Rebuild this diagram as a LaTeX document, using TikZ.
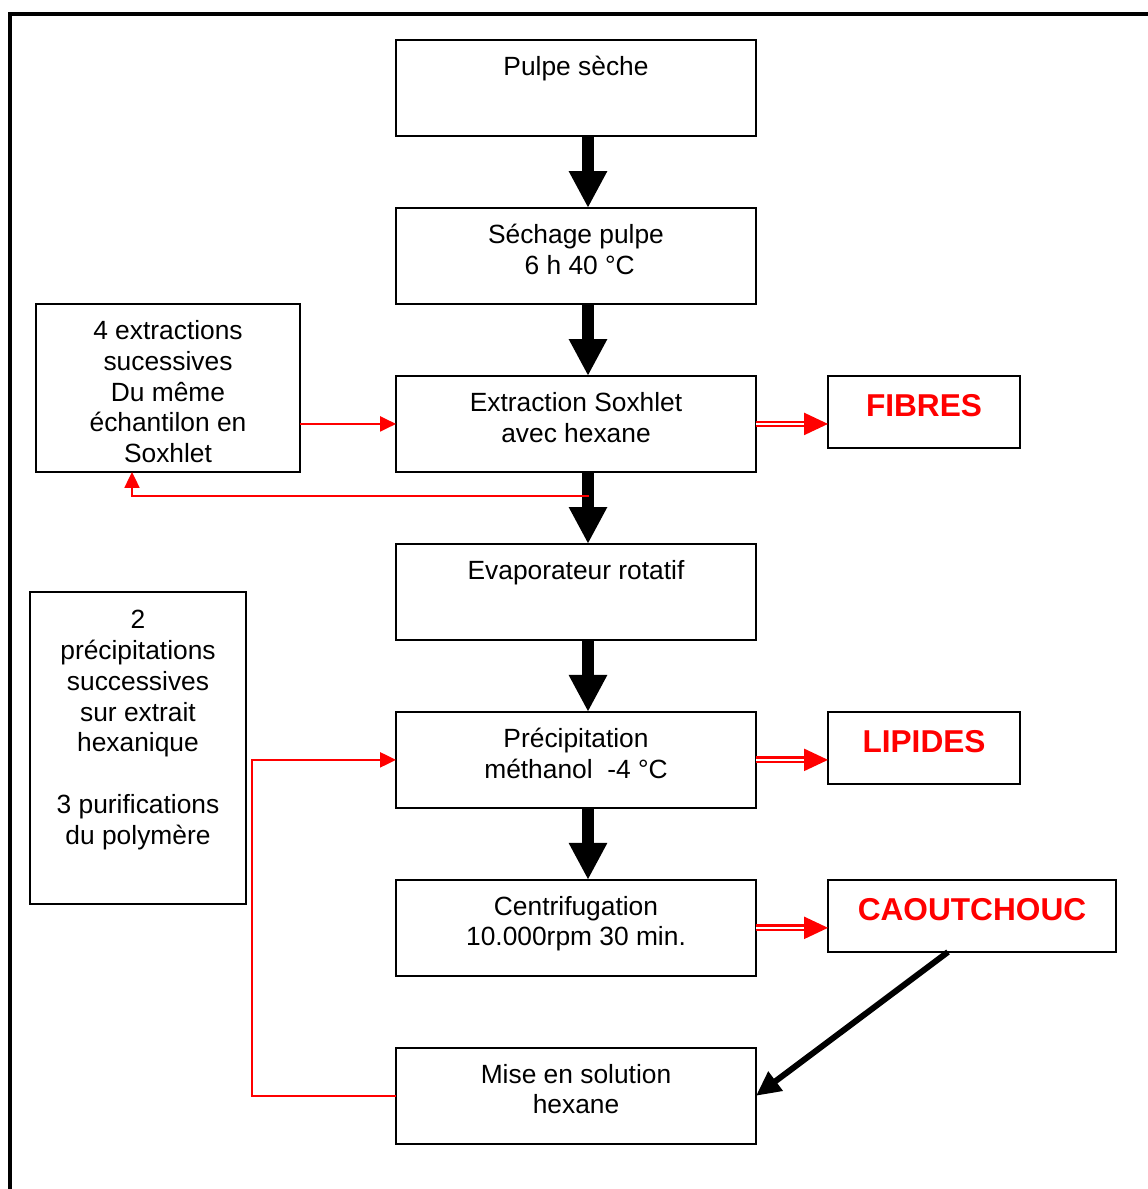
\documentclass[tikz,border=0pt]{standalone}
\usepackage{fontspec}
\setmainfont{Liberation Sans}
\usetikzlibrary{arrows.meta,positioning,calc}
\newcommand\tstrut{\rule{0pt}{15pt}}

\begin{document}
\begin{tikzpicture}
  [x=0.02cm, y=-0.02cm,
   box/.style={draw,line width=1.1pt,minimum width=7.2cm,minimum height=1.92cm,inner sep=0pt,outer sep=0pt},
   sidebox/.style={draw,line width=1.1pt,inner sep=0pt,outer sep=0pt},
   txt/.style={font=\fontsize{15}{17.6}\selectfont,align=center,inner sep=0pt,anchor=north},
   restxt/.style={font=\fontsize{18}{21}\selectfont\bfseries,text=red,inner sep=0pt,anchor=north,
     execute at begin node=\rule{0pt}{18pt}},
   flow/.style={line width=6.8pt,-{Triangle[length=21pt,width=20.4pt]}},
   toresult/.style={red,line width=1.2pt,double=white,double distance=1.5pt,
     -{Triangle[length=13.6pt,width=12.5pt]}},
   redline/.style={red,line width=1.1pt,-{Triangle[length=9pt,width=8.5pt]}},
   diag/.style={line width=3.4pt,-{Triangle[length=14pt,width=13pt]}},
   node distance=1.44cm]

  \useasboundingbox (0,0) rectangle (1147,1189);
  \draw[line width=2.3pt] (10,1200) -- (10,14) -- (1160,14);

  % main column
  \node[box] (pulpe) at (576,88) {};
  \node[box] (sechage) [below=of pulpe] {};
  \node[box] (extr) [below=of sechage] {};
  \node[box] (evap) [below=of extr] {};
  \node[box] (precip) [below=of evap] {};
  \node[box] (centri) [below=of precip] {};
  \node[box] (mise) [below=of centri] {};

  \node[txt] (pulpeT) [below=0.17cm of pulpe.north] {\tstrut Pulpe sèche};
  \node[txt] (sechageT) [below=0.17cm of sechage.north] {\tstrut Séchage pulpe\\~6 h 40 °C};
  \node[txt] (extrT) [below=0.17cm of extr.north] {\tstrut Extraction Soxhlet\\avec hexane};
  \node[txt] (evapT) [below=0.17cm of evap.north] {\tstrut Evaporateur rotatif};
  \node[txt] (precipT) [below=0.17cm of precip.north] {\tstrut Précipitation\\méthanol\ \ -4 °C};
  \node[txt] (centriT) [below=0.17cm of centri.north] {\tstrut Centrifugation\\10.000rpm 30 min.};
  \node[txt] (miseT) [below=0.17cm of mise.north] {\tstrut Mise en solution\\hexane};

  % side boxes
  \node[sidebox,minimum width=5.28cm,minimum height=3.36cm] (rep) at (168,388) {};
  \node[txt] (repT) [below=0.17cm of rep.north]
    {\tstrut 4 extractions\\sucessives\\Du même\\échantilon en\\Soxhlet};
  \node[sidebox,minimum width=4.32cm,minimum height=6.24cm] (purif) at (138,748) {};
  \node[txt] (purifT) [below=0.19cm of purif.north]
    {\tstrut 2\\précipitations\\successives\\sur extrait\\hexanique\\[17.6pt]3 purifications\\du polymère};

  % results
  \node[sidebox,minimum width=3.84cm,minimum height=1.44cm] (fibres) at (924,412) {};
  \node[sidebox,minimum width=3.84cm,minimum height=1.44cm] (lipides) at (924,748) {};
  \node[sidebox,minimum width=5.76cm,minimum height=1.44cm] (caout) at (972,916) {};
  \node[restxt] (fibresT) [below=0.17cm of fibres.north] {FIBRES};
  \node[restxt] (lipidesT) [below=0.17cm of lipides.north] {LIPIDES};
  \node[restxt] (caoutT) [below=0.17cm of caout.north] {CAOUTCHOUC};

  % connectors
  \foreach \a/\b in {pulpe/sechage,sechage/extr,extr/evap,evap/precip,precip/centri}
    \draw[flow] ($(\a.south)+(12,0)$) -- ($(\b.north)+(12,0)$);

  \draw[toresult] (extr.east) -- (extr.east -| fibres.west);
  \draw[toresult] (precip.east) -- (precip.east -| lipides.west);
  \draw[toresult] (centri.east) -- (centri.east -| caout.west);

  \draw[redline] (extr.west -| rep.east) -- (extr.west);
  \coordinate (back) at ($(extr.south)+(13,24)$);
  \draw[redline] (back) -| ($(rep.south)+(-36,0)$);
  \draw[redline] (mise.west) -- ++(-144,0) |- (precip.west);

  \draw[diag] ($(caout.south)+(-24,0)$) -- (mise.east);
\end{tikzpicture}
\end{document}
